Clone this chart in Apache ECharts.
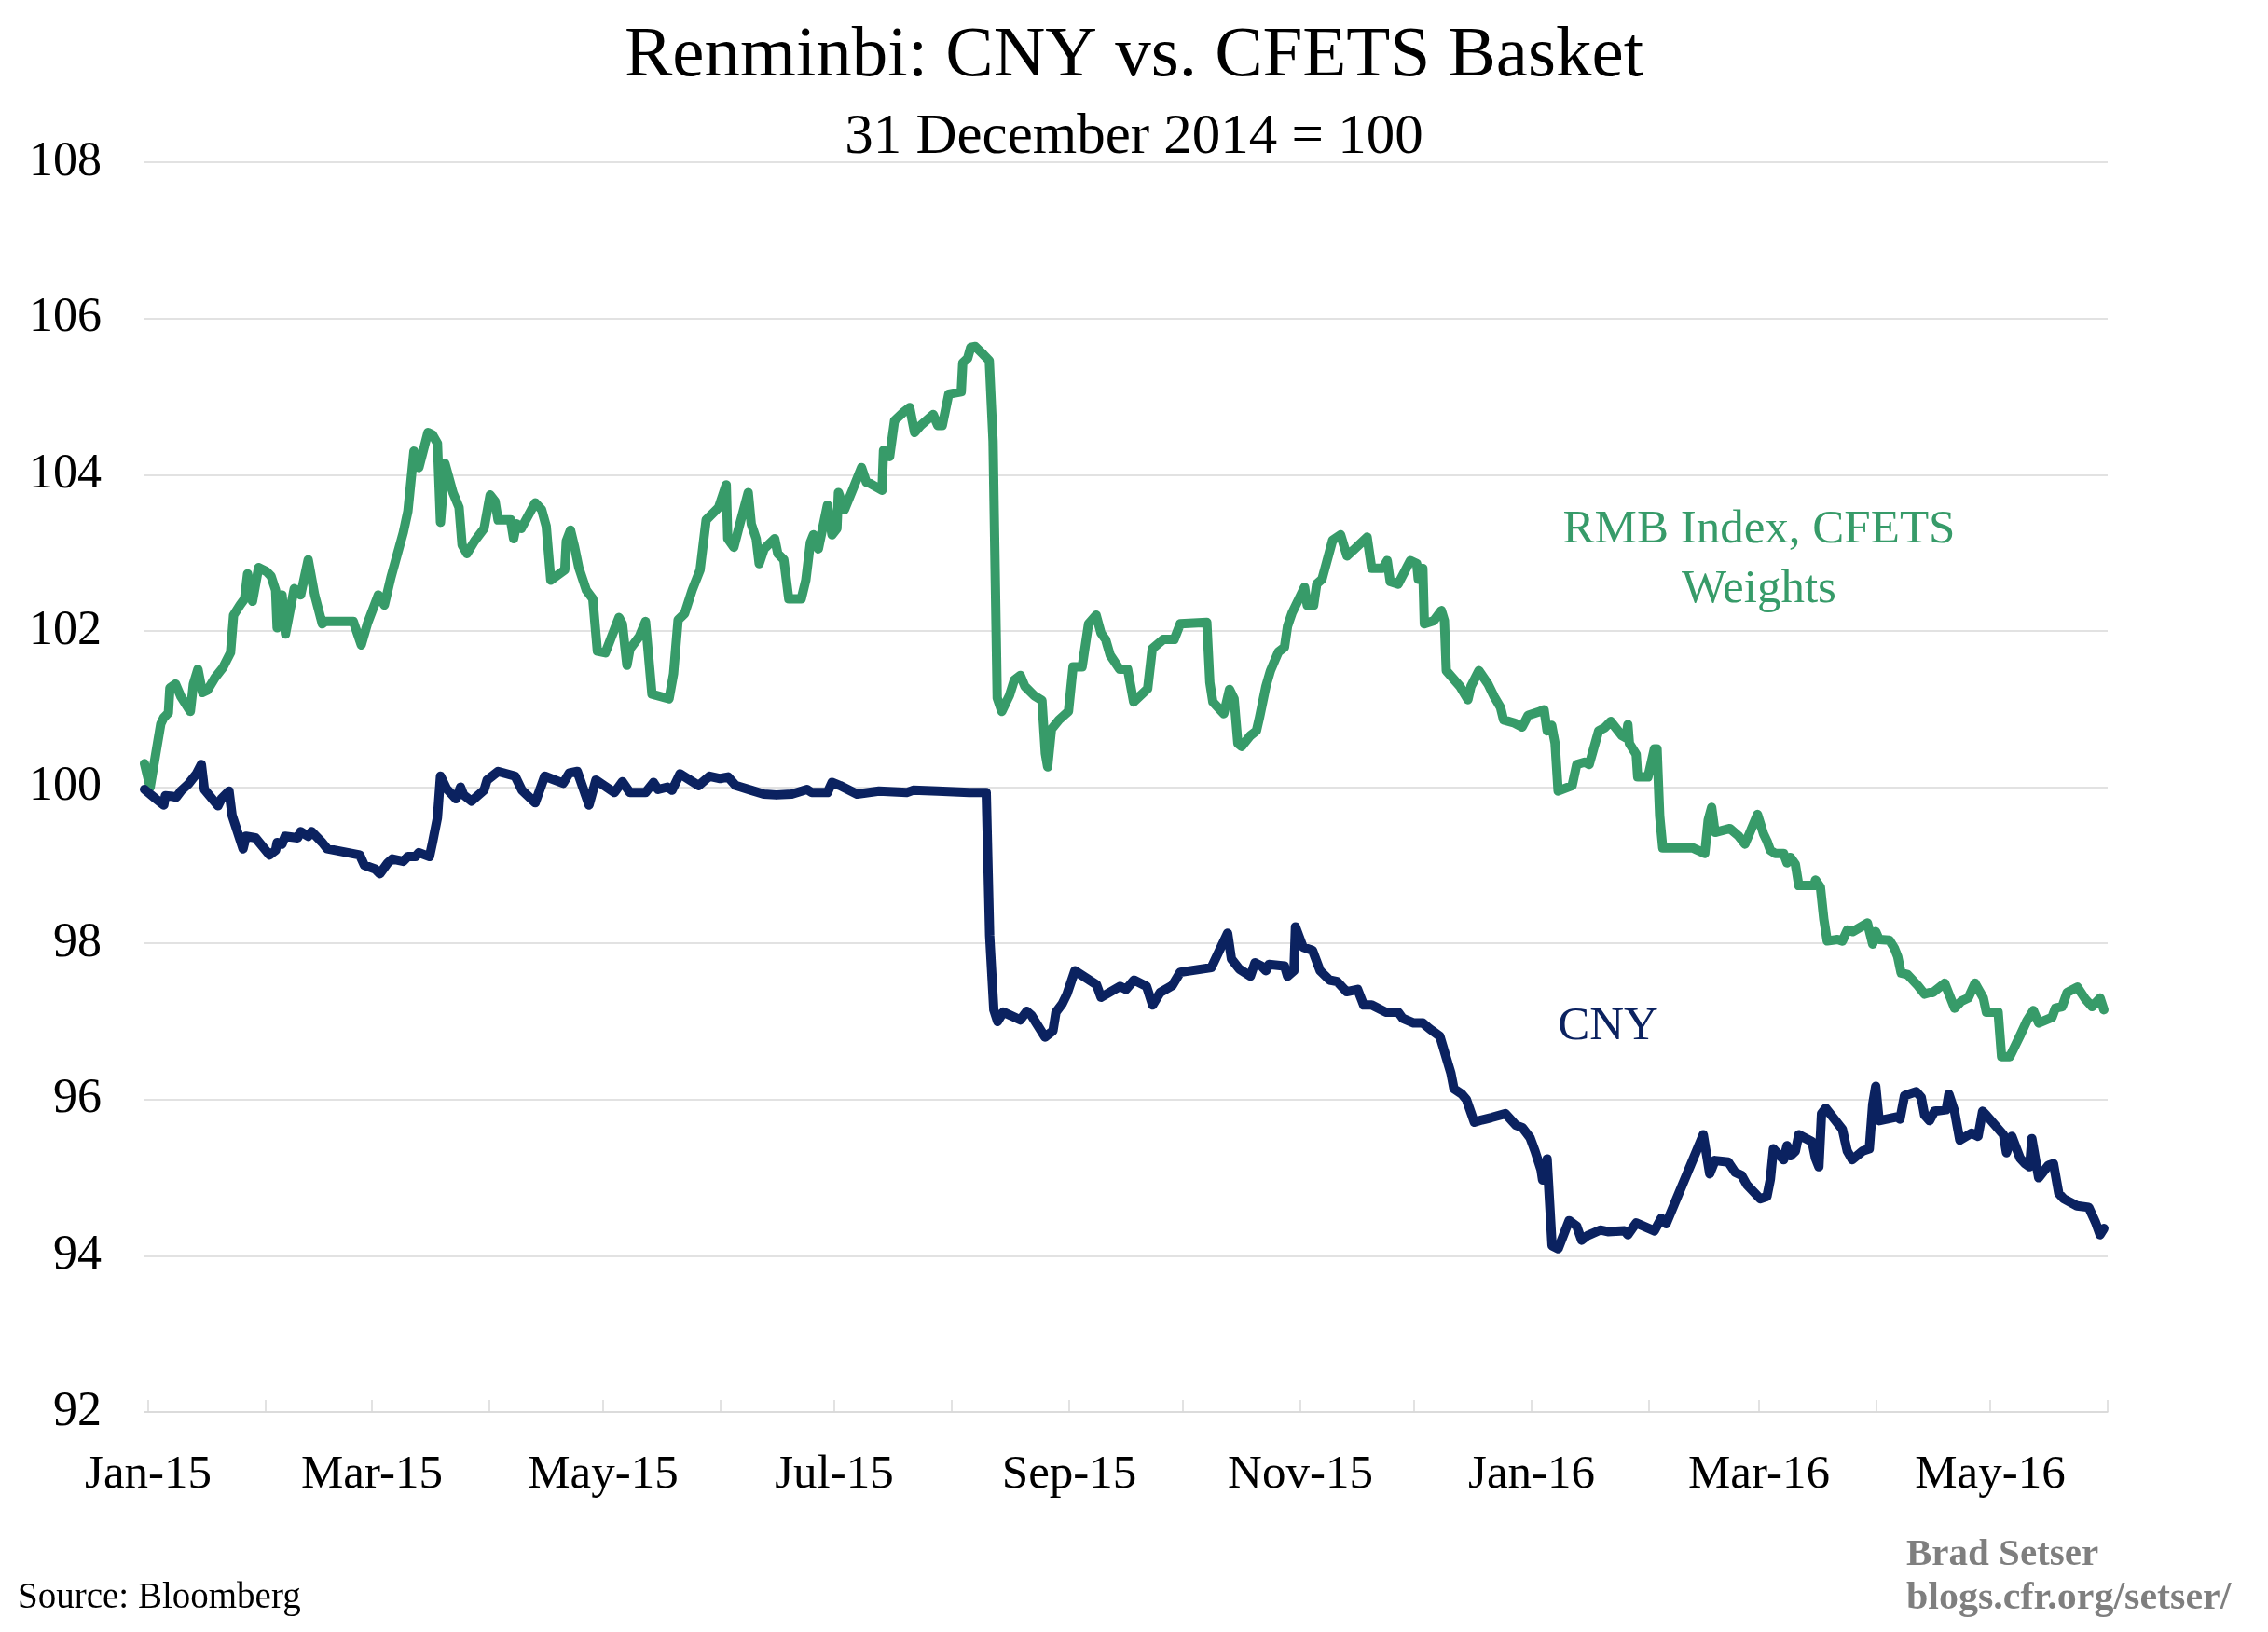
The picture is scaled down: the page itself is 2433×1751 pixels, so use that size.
<!DOCTYPE html>
<html>
<head>
<meta charset="utf-8">
<script src="https://cdn.jsdelivr.net/npm/echarts@6/dist/echarts.min.js"></script>
<style>
html,body{margin:0;padding:0;background:#fff;}
#chart{width:2433px;height:1751px;}
</style>
</head>
<body>
<div id="chart"></div>
<script>
// Day offsets are days since 31 December 2014 (= day 0, index base 100)
const greenDays = [0,1.5,4.3,5.1,6.3,6.7,8.2,9.6,12.1,12.9,14.1,15.3,16.6,18.6,20.7,22.7,23.5,25.2,26.4,27.2,28.5,30.1,32.2,33.4,34.6,35.0,36.3,37.2,39.5,41.2,43.2,44.9,46.9,47.7,55.1,57.2,58.8,61.7,63.3,65.0,68.3,69.5,71.1,72.4,74.8,76.0,77.3,78.1,79.3,81.4,83.0,83.8,85.1,87.1,89.6,91.2,92.5,93.3,96.6,97.4,98.2,99.4,103.1,104.8,106.0,107.2,110.9,111.3,112.4,113.5,114.6,116.6,118.3,119.5,121.6,125.2,126.1,127.3,128.1,130.6,132.2,133.9,138.4,139.6,140.8,142.5,144.5,146.6,148.2,151.5,153.5,153.9,155.5,157.1,159.3,160.1,161.4,162.2,163.5,166.3,167.1,168.7,170.0,173.3,174.5,175.7,176.5,177.8,180.2,181.4,182.7,183.1,184.7,187.2,189.2,190.5,191.3,194.6,195.0,196.6,197.9,200.3,201.9,203.2,204.8,208.1,209.3,210.5,212.2,215.5,215.9,217.2,218.0,219.2,221.3,222.9,223.9,225.0,226.2,228.2,229.5,231.1,232.3,234.8,236.8,237.7,238.3,239.3,241.3,243.8,245.0,247.4,249.1,251.1,252.4,253.6,254.8,257.3,259.4,261.0,264.7,265.9,268.8,271.7,273.3,280.3,281.1,281.9,284.8,286.3,287.5,288.5,289.5,291.8,293.4,294.2,295.9,297.1,299.2,300.8,301.6,302.8,306.1,306.8,308.5,309.3,310.7,313.5,315.6,317.3,318.9,322.6,323.8,326.7,327.9,328.7,330.8,334.0,335.7,336.1,337.3,337.7,340.2,342.2,343.0,343.5,347.1,349.2,350.0,352.1,354.5,356.1,357.8,358.6,361.5,363.5,365.1,367.7,369.3,370.1,371.3,372.2,373.0,376.7,377.9,380.0,381.2,383.7,385.3,386.9,389.8,390.9,391.4,391.8,393.6,394.0,396.7,398.4,399.1,399.8,400.6,408.6,411.7,412.6,413.5,414.4,418.3,420.5,422.3,423.6,425.6,427.2,428.1,429.0,430.3,432.5,433.4,434.3,435.6,436.5,440.5,440.9,442.2,443.1,444.0,446.7,448.0,449.3,450.7,454.6,456.0,456.8,457.7,460.4,461.7,462.6,463.5,465.2,467.9,469.7,471.0,471.9,475.0,477.6,479.4,481.2,483.0,485.2,486.0,487.8,489.1,490.0,492.2,494.9,496.7,498.4,499.8,503.3,504.2,506.0,507.3,510.0,512.2,513.9,516.0,517.0];
const greenVals = [100.30,100.00,100.81,100.89,100.95,101.27,101.32,101.16,100.97,101.32,101.51,101.21,101.24,101.40,101.53,101.72,102.20,102.33,102.41,102.73,102.38,102.81,102.76,102.70,102.52,102.04,102.46,101.96,102.54,102.46,102.91,102.46,102.09,102.12,102.12,101.82,102.09,102.46,102.33,102.68,103.26,103.53,104.30,104.09,104.54,104.51,104.40,103.39,104.14,103.77,103.58,103.10,102.99,103.15,103.31,103.74,103.66,103.42,103.42,103.18,103.37,103.31,103.64,103.55,103.34,102.65,102.78,103.15,103.29,103.07,102.81,102.52,102.41,101.74,101.72,102.17,102.09,101.56,101.77,101.93,102.12,101.19,101.13,101.45,102.14,102.22,102.52,102.78,103.42,103.58,103.87,103.18,103.07,103.37,103.77,103.37,103.18,102.86,103.05,103.18,102.99,102.91,102.41,102.41,102.65,103.13,103.23,103.05,103.61,103.23,103.31,103.77,103.55,103.85,104.09,103.90,103.89,103.80,104.31,104.23,104.69,104.80,104.86,104.54,104.63,104.77,104.63,104.63,105.03,105.06,105.43,105.49,105.63,105.64,105.54,105.46,104.43,101.14,100.97,101.17,101.37,101.43,101.29,101.17,101.11,100.43,100.26,100.74,100.86,100.97,101.54,101.54,102.09,102.20,101.97,101.89,101.69,101.51,101.51,101.09,101.26,101.77,101.89,101.89,102.09,102.11,101.34,101.09,100.94,101.25,101.13,100.56,100.52,100.66,100.72,100.89,101.29,101.49,101.73,101.79,102.06,102.23,102.56,102.33,102.33,102.60,102.66,103.16,103.23,102.96,103.03,103.20,102.80,102.80,102.90,102.63,102.60,102.90,102.86,102.66,102.80,102.09,102.13,102.26,102.13,101.49,101.29,101.12,101.29,101.49,101.32,101.16,101.02,100.86,100.82,100.77,100.92,100.96,100.99,100.72,100.79,100.56,99.95,100.02,100.29,100.32,100.29,100.72,100.76,100.84,100.66,100.63,100.80,100.56,100.42,100.13,100.13,100.49,100.49,99.63,99.22,99.22,99.15,99.58,99.74,99.42,99.47,99.38,99.27,99.42,99.65,99.40,99.31,99.19,99.15,99.15,99.03,99.10,99.01,98.74,98.74,98.81,98.72,98.31,98.03,98.05,98.03,98.17,98.15,98.26,97.99,98.15,98.05,98.04,97.94,97.83,97.62,97.60,97.46,97.35,97.37,97.37,97.49,97.17,97.26,97.30,97.49,97.30,97.12,97.12,97.12,96.55,96.55,96.82,97.01,97.14,96.98,97.05,97.17,97.19,97.37,97.44,97.28,97.19,97.30,97.15];

const cnyDays = [0,3.0,5.1,5.5,7.5,8.4,9.6,11.6,12.9,13.7,15.0,15.8,19.4,20.3,22.3,23.1,26.0,26.8,29.3,33.0,34.6,35.0,36.3,37.1,40.4,41.2,43.2,44.1,46.9,48.2,56.8,58.0,60.9,62.1,64.2,65.4,68.3,69.5,71.5,72.4,75.2,76.0,77.3,78.1,79.7,82.2,83.4,84.2,86.3,89.6,90.4,93.3,97.8,99.6,103.1,105.6,110.5,112.1,114.2,117.3,119.1,124.0,126.1,128.1,132.2,134.3,135.5,138.0,139.2,141.3,146.2,149.1,151.9,154.0,156.0,160.1,163.4,166.7,170.8,174.8,176.1,180.2,181.4,183.5,188.0,193.8,201.1,202.8,209.3,217.6,222.1,223.0,224.1,225.1,226.6,231.1,232.8,234.0,237.6,239.7,240.5,242.2,243.4,245.5,251.2,252.4,257.4,259.0,261.1,264.4,266.0,268.0,271.2,273.3,281.5,285.8,286.8,288.9,291.8,293.0,294.7,295.9,296.7,300.8,301.6,303.3,303.7,305.7,308.2,310.2,312.7,314.7,317.2,320.1,321.7,323.8,327.5,330.8,332.0,334.9,337.3,339.0,341.8,344.7,345.5,347.6,348.8,350.9,352.9,355.4,359.1,361.9,363.6,365.6,366.9,368.5,368.9,370.1,371.4,373.0,375.9,377.9,379.2,380.8,384.1,386.1,390.5,391.4,393.6,398.4,400.2,401.5,411.3,413.0,414.4,417.9,419.7,421.4,422.8,426.3,428.1,429.0,429.8,432.5,433.4,434.3,435.6,436.5,440.0,440.9,441.8,442.5,443.6,448.0,449.3,450.6,453.3,455.1,456.0,456.8,457.7,462.6,463.2,464.4,467.5,468.8,469.7,471.0,472.3,475.4,476.1,477.6,479.0,482.1,483.8,485.0,486.0,490.5,491.3,492.7,494.9,496.2,497.4,498.0,499.8,502.4,503.7,505.1,506.4,509.9,513.0,514.8,516.0,517.0];
const cnyVals = [99.97,99.85,99.77,99.89,99.88,99.87,99.95,100.04,100.12,100.17,100.29,99.97,99.76,99.85,99.95,99.64,99.21,99.37,99.35,99.13,99.19,99.29,99.27,99.37,99.35,99.43,99.37,99.43,99.29,99.21,99.13,99.00,98.95,98.89,99.03,99.08,99.05,99.11,99.11,99.16,99.11,99.29,99.61,100.14,99.98,99.85,100.00,99.90,99.82,99.96,100.09,100.20,100.14,99.96,99.80,100.14,100.05,100.18,100.20,99.77,100.09,99.93,100.07,99.93,99.93,100.06,99.97,100.00,99.96,100.17,100.02,100.14,100.11,100.13,100.02,99.96,99.91,99.90,99.91,99.97,99.93,99.93,100.06,100.02,99.91,99.95,99.93,99.96,99.95,99.93,99.93,98.10,97.15,97.00,97.12,97.02,97.13,97.08,96.80,96.88,97.12,97.23,97.35,97.65,97.47,97.31,97.45,97.41,97.53,97.45,97.21,97.37,97.46,97.63,97.69,98.13,97.80,97.67,97.58,97.75,97.71,97.65,97.73,97.71,97.58,97.65,98.21,97.95,97.91,97.65,97.53,97.51,97.38,97.41,97.21,97.21,97.12,97.12,97.04,96.98,96.98,96.91,96.81,96.34,96.14,96.07,96.00,95.71,95.74,95.77,95.82,95.67,95.64,95.51,95.34,95.10,94.97,95.24,94.13,94.09,94.45,94.38,94.20,94.26,94.33,94.31,94.32,94.27,94.42,94.32,94.48,94.41,95.55,95.05,95.22,95.20,95.07,95.03,94.91,94.73,94.76,94.98,95.37,95.23,95.41,95.28,95.34,95.55,95.46,95.25,95.14,95.82,95.89,95.62,95.34,95.23,95.34,95.37,95.94,96.17,95.73,95.78,95.75,96.05,96.10,96.03,95.80,95.73,95.85,95.87,96.07,95.85,95.48,95.57,95.53,95.85,95.80,95.55,95.32,95.53,95.25,95.18,95.14,95.50,95.00,95.16,95.18,94.80,94.73,94.64,94.62,94.43,94.27,94.35];

const xTickLabels = ['Jan-15','Mar-15','May-15','Jul-15','Sep-15','Nov-15','Jan-16','Mar-16','May-16'];
const xTickDates  = ['2015-01-01','2015-03-01','2015-05-01','2015-07-01','2015-09-01','2015-11-01','2016-01-01','2016-03-01','2016-05-01'];
const yMin = 92, yMax = 108, yStep = 2;

const FONT = '"Liberation Serif", "Times New Roman", serif';
const GREEN = '#379b69';
const NAVY = '#0b2260';
const DAY = 86400000;
const BASE = Date.UTC(2014, 11, 31);
const toDay = t => Math.round((t - BASE) / DAY);
const parseDate = s => { const p = s.split('-').map(Number); return Date.UTC(p[0], p[1] - 1, p[2]); };

const labelDays = xTickDates.map(s => toDay(parseDate(s)));
const labelMap = {};
labelDays.forEach((d, i) => { labelMap[d] = xTickLabels[i]; });
const monthTicks = [];
for (let m = 0; m <= 17; m++) monthTicks.push(toDay(Date.UTC(2015, m, 1)));
const xMax = toDay(Date.UTC(2016, 5, 1));

const greenData = greenDays.map((d, i) => [d, greenVals[i]]);
const cnyData = cnyDays.map((d, i) => [d, cnyVals[i]]);

const chart = echarts.init(document.getElementById('chart'), null, {renderer: 'canvas'});
chart.setOption({
  animation: false,
  backgroundColor: '#fff',
  title: [
    {text: 'Renminbi: CNY vs. CFETS Basket', left: 'center', top: 22, padding: 0,
     textStyle: {fontFamily: FONT, fontSize: 77, fontWeight: 'normal', color: '#000'}},
    {text: '31 December 2014 = 100', left: 'center', top: 117, padding: 0,
     textStyle: {fontFamily: FONT, fontSize: 61, fontWeight: 'normal', color: '#000'}}
  ],
  grid: {left: 155, right: 172, top: 174, bottom: 236, containLabel: false},
  xAxis: {
    type: 'value',
    min: 0,
    max: xMax,
    axisLine: {show: true, lineStyle: {color: '#d9d9d9', width: 1.5}},
    axisTick: {show: true, inside: true, length: 13, customValues: monthTicks, lineStyle: {color: '#d9d9d9', width: 1.5}},
    axisLabel: {
      customValues: labelDays,
      formatter: v => labelMap[Math.round(v)] || '',
      fontFamily: FONT, fontSize: 51, color: '#000', margin: 42
    },
    splitLine: {show: false}
  },
  yAxis: {
    type: 'value',
    min: yMin, max: yMax, interval: yStep,
    axisLine: {show: false},
    axisTick: {show: false},
    axisLabel: {fontFamily: FONT, fontSize: 52, color: '#000', margin: 46},
    splitLine: {show: true, lineStyle: {color: '#d9d9d9', width: 1.5}}
  },
  series: [
    {name: 'RMB Index, CFETS Weights', type: 'line', data: greenData, showSymbol: false, symbol: 'none',
     lineStyle: {color: GREEN, width: 10, join: 'round', cap: 'round'}, itemStyle: {color: GREEN}, z: 3},
    {name: 'CNY', type: 'line', data: cnyData, showSymbol: false, symbol: 'none',
     lineStyle: {color: NAVY, width: 10, join: 'round', cap: 'round'}, itemStyle: {color: NAVY}, z: 4}
  ],
  graphic: [
    {type: 'text', x: 1887, y: 601, style: {text: 'RMB Index, CFETS\nWeights', fill: GREEN, font: '51px ' + FONT, align: 'center', verticalAlign: 'middle', lineHeight: 64}},
    {type: 'text', x: 1725, y: 1102, style: {text: 'CNY', fill: NAVY, font: '51px ' + FONT, align: 'center', verticalAlign: 'middle'}},
    {type: 'text', x: 19, y: 1715, style: {text: 'Source: Bloomberg', fill: '#000', font: '39px ' + FONT, align: 'left', verticalAlign: 'middle'}},
    {type: 'text', x: 2045, y: 1668, style: {text: 'Brad Setser', fill: '#7f7f7f', font: 'bold 41px ' + FONT, align: 'left', verticalAlign: 'middle'}},
    {type: 'text', x: 2045, y: 1715, style: {text: 'blogs.cfr.org/setser/', fill: '#7f7f7f', font: 'bold 42px ' + FONT, align: 'left', verticalAlign: 'middle'}}
  ]
});
</script>
</body>
</html>
